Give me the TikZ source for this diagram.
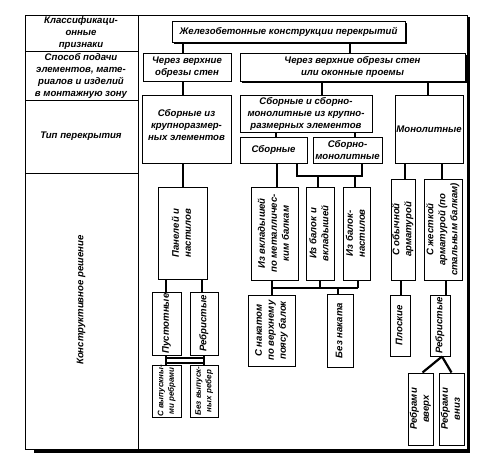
\documentclass[tikz,border=0pt]{standalone}
\usepackage{fontspec}
\setmainfont{Liberation Sans}
\usepackage{graphicx}
\newcommand\fs{\fontsize{9.6}{12}\selectfont\bfseries\itshape}
\newcommand\fss{\fontsize{8}{10.5}\selectfont\bfseries\itshape}
\newcommand\vt[1]{\rotatebox{90}{\begin{tabular}{@{}c@{}}#1\end{tabular}}}
\tikzset{
  bx/.style={draw, line width=1pt, inner sep=0pt, align=center, font=\fs},
  txt/.style={inner sep=0pt, align=center, font=\fs},
  cn/.style={line width=2.6pt},
  shad/.style={preaction={fill=black, transform canvas={shift={(1.6pt,-1.6pt)}}}, fill=white},
}
\newcommand\B[6]{\node[bx,minimum width={#4-#2},minimum height={#5-#3}] (#1) at ({(#2+#4)/2},{(#3+#5)/2}) {#6};}
\newcommand\BS[6]{\node[bx,shad,minimum width={#4-#2},minimum height={#5-#3}] (#1) at ({(#2+#4)/2},{(#3+#5)/2}) {#6};}
\begin{document}
\begin{tikzpicture}[x=1pt,y=-1pt]
\useasboundingbox[fill=white] (0,0) rectangle (484,466);
% frame
\draw[line width=0.9pt] (25,15) rectangle (467,449);
\draw[line width=3.4pt] (468.5,17) -- (468.5,451) -- (34,451);
\draw[line width=0.9pt] (138,15) -- (138,449);
\draw[line width=0.9pt] (25,51) -- (138,51) (25,100) -- (138,100) (25,173) -- (138,173);
\node[txt] (h1) at (81,33) {Классификаци-\\онные\\признаки};
\node[txt] (h2) at (81,76) {Способ подачи\\элементов, мате-\\риалов и изделий\\в монтажную зону};
\node[txt] (h3) at (81,136) {Тип перекрытия};
\node[txt,rotate=90] (h4) at (81,300) {Конструктивное решение};
% boxes
\BS{T}{172}{21}{405}{42}{Железобетонные конструкции перекрытий}
\B{A1}{143}{53}{231}{81}{Через верхние\\обрезы стен}
\BS{A2}{240}{53}{465}{81}{Через верхние обрезы стен\\или оконные проемы}
\B{B1}{142}{95}{231}{163}{}
\node[txt] (B1t) at (186.5,125) {Сборные из\\крупноразмер-\\ных элементов};
\B{B2}{240}{95}{372}{132}{Сборные и сборно-\\монолитные из крупно-\\размерных элементов}
\B{B3}{395}{95}{463}{163}{Монолитные}
\B{C1}{240}{137}{307}{163}{Сборные}
\B{C2}{313}{137}{382}{163}{Сборно-\\монолитные}
\B{D1}{158}{187}{207}{279}{\vt{Панелей и\\настилов}}
\B{D2}{251}{187}{298}{280}{\vt{Из вкладышей\\по металличес-\\ким балкам}}
\B{D3}{306}{187}{334}{280}{\vt{Из балок и\\вкладышей}}
\B{D4}{343}{187}{370}{280}{\vt{Из балок-\\настилов}}
\B{D5}{391}{179}{415}{280}{\vt{С обычной\\арматурой}}
\B{D6}{424}{179}{462}{280}{\vt{С жесткой\\арматурой (по\\стальным балкам)}}
\B{E1}{152}{292}{181}{355}{\vt{Пустотные}}
\B{E2}{190}{292}{218}{355}{\vt{Ребристые}}
\B{E3}{248}{295}{295}{366}{\vt{С накатом\\по верхнему\\поясу балок}}
\B{E4}{327}{294}{353}{367}{\vt{Без наката}}
\B{E5}{390}{295}{410}{356}{\vt{Плоские}}
\B{E6}{430}{295}{450}{356}{\vt{Ребристые}}
\B{F1}{152}{365}{181}{417}{\fss\vt{С выпускны-\\ми ребрами}}
\B{F2}{190}{365}{218}{417}{\fss\vt{Без выпуск-\\ных ребер}}
\B{F3}{408}{373}{433}{445}{\vt{Ребрами\\вверх}}
\B{F4}{439}{373}{464}{445}{\vt{Ребрами\\вниз}}
% x positions
\foreach \n/\v in {a/183,b/350,c/322,d/428,e/276,f/355,g/277,h/297,i/362,j/318,k/405,l/442,m/166,n/202,o/272,p/320,q/358,r/338,s/401,t/446,u/204}
  \coordinate (x\n) at (\v,0);
\coordinate (bar1) at (0,176);
\coordinate (bar2) at (0,288);
\coordinate (bar3) at (0,360.5);
% connectors
\draw[cn] (T.south -| xa) -- (A1.north -| xa);
\draw[cn] (T.south -| xb) -- (A2.north -| xb);
\draw[cn] (A1.south -| xa) -- (B1.north -| xa);
\draw[cn] (A2.south -| xc) -- (B2.north -| xc);
\draw[cn] (A2.south -| xd) -- (B3.north -| xd);
\draw[cn] (B2.south -| xe) -- (C1.north -| xe);
\draw[cn] (B2.south -| xf) -- (C2.north -| xf);
\draw[cn] (B1.south -| xa) -- (D1.north -| xa);
\draw[cn] (C1.south -| xg) -- (D2.north -| xg);
\draw[cn] (C1.south -| xh) -- (xh |- bar1) -- (xi |- bar1) -- (C2.south -| xi);
\draw[cn] (xj |- bar1) -- (D3.north -| xj);
\draw[cn] (xf |- bar1) -- (D4.north -| xf);
\draw[cn] (B3.south -| xk) -- (D5.north -| xk);
\draw[cn] (B3.south -| xl) -- (D6.north -| xl);
\draw[cn] (D1.south -| xm) -- (E1.north -| xm);
\draw[cn] (D1.south -| xn) -- (E2.north -| xn);
\draw[cn] (D2.south -| xo) -- (E3.north -| xo);
\draw[cn] (D3.south -| xp) -- (xp |- bar2);
\draw[cn] (D4.south -| xq) -- (xq |- bar2);
\draw[cn] (xo |- bar2) -- (xq |- bar2);
\draw[cn] (xr |- bar2) -- (E4.north -| xr);
\draw[cn] (D5.south -| xs) -- (E5.north -| xs);
\draw[cn] (D6.south -| xt) -- (E6.north -| xt);
\draw[cn] (E1.south -| xm) -- (F1.north -| xm);
\draw[cn] (E2.south -| xu) -- (F2.north -| xu);
\draw[line width=1.8pt] ([yshift=-2.2pt]xm |- bar3) -- ([yshift=-2.2pt]xu |- bar3);
\draw[line width=1.8pt] ([yshift=2.2pt]xm |- bar3) -- ([yshift=2.2pt]xu |- bar3);
\draw[line width=2.2pt] (E6.south -| xl) -- ([xshift=2pt]F3.north);
\draw[line width=2.2pt] (E6.south -| xl) -- (F4.north);
\end{tikzpicture}
\end{document}
